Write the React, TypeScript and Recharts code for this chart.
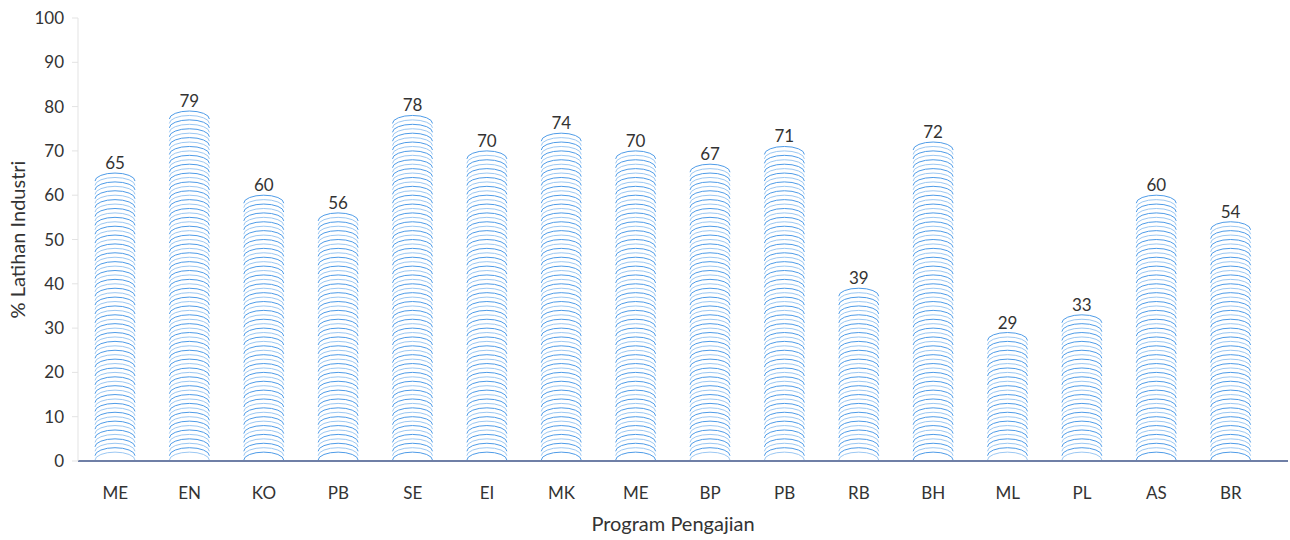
import React from "react";
import { BarChart, Bar, XAxis, YAxis, LabelList } from "recharts";

const programs = ["ME", "EN", "KO", "PB", "SE", "EI", "MK", "ME", "BP", "PB", "RB", "BH", "ML", "PL", "AS", "BR"];
const percentages = [65, 79, 60, 56, 78, 70, 74, 70, 67, 71, 39, 72, 29, 33, 60, 54];
const yTicks = [0, 10, 20, 30, 40, 50, 60, 70, 80, 90, 100];

const chartData = programs.map((name, i) => ({ key: `${name}-${i}`, name, value: percentages[i] }));

const FONT = "Lato, 'Open Sans', sans-serif";

// stack of thin arcs, like the scanned bars
const ArcBar = (props: any) => {
  const { x, y, width, height } = props;
  if (!height || height <= 0) return null;
  const step = 4.43;
  const d = 8;
  const bottom = y + height;
  const arcs = [];
  let i = 0;
  for (let yy = y; yy + d <= bottom + 0.5; yy += step) {
    arcs.push(
      <path
        key={i}
        d={`M${x},${yy + d} A${width / 2},${d} 0 0 1 ${x + width},${yy + d}`}
        fill="none"
        stroke={i % 2 === 0 ? "#4f9ce8" : "#9cc8f3"}
        strokeWidth={1}
      />
    );
    i++;
  }
  return <g>{arcs}</g>;
};

const App: React.FC = () => {
  return (
    <div style={{ position: "absolute", left: 0, top: 0, width: 1290, height: 540, background: "#fff" }}>
      <BarChart
        width={1290}
        height={540}
        data={chartData}
        margin={{ top: 18, right: 2, left: 18, bottom: 49 }}
        barSize={40}
      >
        <XAxis
          dataKey="key"
          tickFormatter={(v: string) => v.split("-")[0]}
          padding={{ left: 0, right: 20 }}
          axisLine={{ stroke: "#6f7fa6", strokeWidth: 2 }}
          tickLine={false}
          tick={{ fill: "#333", fontSize: 17, fontFamily: FONT }}
          tickMargin={20}
          label={{
            value: "Program Pengajian",
            position: "insideBottom",
            offset: -40,
            dx: -10,
            style: { fill: "#333", fontSize: 20, fontFamily: FONT },
          }}
        />
        <YAxis
          domain={[0, 100]}
          ticks={yTicks}
          width={60}
          axisLine={{ stroke: "#e3e3e3" }}
          tickLine={{ stroke: "#e3e3e3" }}
          tickSize={6}
          tick={{ fill: "#333", fontSize: 17, fontFamily: FONT }}
          tickMargin={8}
          label={{
            value: "% Latihan Industri",
            angle: -90,
            position: "insideLeft",
            offset: 0,
            style: { fill: "#333", fontSize: 20, fontFamily: FONT, textAnchor: "middle" },
          }}
        />
        <Bar dataKey="value" shape={ArcBar} isAnimationActive={false}>
          <LabelList
            dataKey="value"
            position="top"
            offset={4}
            style={{ fill: "#333", fontSize: 17, fontFamily: FONT }}
          />
        </Bar>
      </BarChart>
    </div>
  );
};

export default App;
